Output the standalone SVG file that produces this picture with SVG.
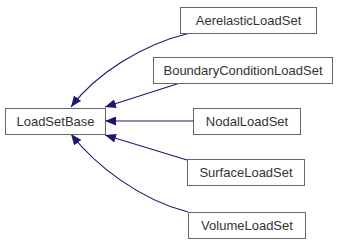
<svg xmlns="http://www.w3.org/2000/svg" width="344" height="245" viewBox="0 0 344 245">
  <style>
    .node rect { fill: #ffffff; stroke: #666666; stroke-width: 1; }
    .node text { font-family: "Liberation Sans", Arial, sans-serif; font-size: 13px; fill: #333333; text-anchor: middle; }
    .edge { fill: none; stroke: #191970; stroke-width: 1.2; marker-end: url(#arrow); }
  </style>
  <defs>
    <marker id="arrow" markerUnits="userSpaceOnUse" markerWidth="11" markerHeight="9" refX="11" refY="4.5" orient="auto">
      <path d="M0,0 L11,4.5 L0,9 Z" fill="#191970"/>
    </marker>
  </defs>
  <rect width="344" height="245" fill="#ffffff"/>

  <!-- inheritance arrows pointing to the base class -->
  <g id="connectors">
    <path class="edge" d="M190,33 C140,45 95,75 71,107"/>
    <path class="edge" d="M180,83 L105,107"/>
    <path class="edge" d="M193,121 L105,121"/>
    <path class="edge" d="M187,160 L105,135"/>
    <path class="edge" d="M188,212 C140,200 95,165 71,134"/>
  </g>

  <g id="LoadSetBase" class="node">
    <rect x="5.5" y="108.5" width="100" height="26"/>
    <text x="55.5" y="126">LoadSetBase</text>
  </g>
  <g id="AerelasticLoadSet" class="node">
    <rect x="180.5" y="7.5" width="136" height="26"/>
    <text x="248.5" y="25">AerelasticLoadSet</text>
  </g>
  <g id="BoundaryConditionLoadSet" class="node">
    <rect x="153.5" y="57.5" width="179" height="26"/>
    <text x="243" y="75">BoundaryConditionLoadSet</text>
  </g>
  <g id="NodalLoadSet" class="node">
    <rect x="193.5" y="108.5" width="107" height="26"/>
    <text x="247" y="126">NodalLoadSet</text>
  </g>
  <g id="SurfaceLoadSet" class="node">
    <rect x="187.5" y="159.5" width="117" height="26"/>
    <text x="246" y="177">SurfaceLoadSet</text>
  </g>
  <g id="VolumeLoadSet" class="node">
    <rect x="188.5" y="212.5" width="117" height="26"/>
    <text x="247" y="230">VolumeLoadSet</text>
  </g>
</svg>
